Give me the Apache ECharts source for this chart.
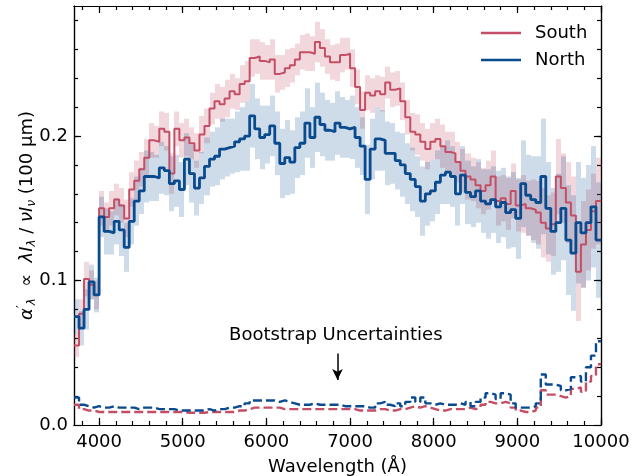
<!DOCTYPE html>
<html>
<head>
<meta charset="utf-8">
<script src="https://cdn.jsdelivr.net/npm/echarts@6/dist/echarts.min.js"></script>
<style>
  html, body { margin: 0; padding: 0; background: #fff; }
  #chart { width: 632px; height: 476px; }
</style>
</head>
<body>
<div id="chart"></div>
<script>
// 波长分箱：3700 Å 起，每箱 60 Å，共 105 箱
const binStart = 3700
const binWidth = 60

// South 谱线数值（每箱一个）
const southFlux = [
  0.055, 0.077, 0.101, 0.097, 0.090, 0.150, 0.144, 0.150, 0.156, 0.152,
  0.143, 0.163, 0.169, 0.177, 0.185, 0.197, 0.196, 0.205, 0.203, 0.174,
  0.205, 0.197, 0.199, 0.195, 0.190, 0.201, 0.207, 0.219, 0.224, 0.222,
  0.226, 0.231, 0.229, 0.236, 0.238, 0.254, 0.255, 0.252, 0.251, 0.253,
  0.243, 0.244, 0.247, 0.249, 0.253, 0.258, 0.258, 0.257, 0.265, 0.261,
  0.255, 0.251, 0.251, 0.256, 0.257, 0.247, 0.234, 0.218, 0.230, 0.228,
  0.231, 0.229, 0.237, 0.232, 0.233, 0.224, 0.213, 0.203, 0.201, 0.196,
  0.191, 0.196, 0.198, 0.193, 0.189, 0.188, 0.182, 0.176, 0.172, 0.170,
  0.166, 0.162, 0.166, 0.172, 0.155, 0.157, 0.153, 0.162, 0.152, 0.153,
  0.150, 0.149, 0.147, 0.140, 0.136, 0.139, 0.172, 0.164, 0.154, 0.145,
  0.106, 0.125, 0.135, 0.148, 0.155
]
// North 谱线数值
const northFlux = [
  0.075, 0.067, 0.080, 0.099, 0.090, 0.144, 0.134, 0.133, 0.141, 0.135,
  0.123, 0.141, 0.155, 0.162, 0.172, 0.172, 0.171, 0.178, 0.176, 0.167,
  0.169, 0.163, 0.184, 0.174, 0.164, 0.171, 0.179, 0.184, 0.186, 0.191,
  0.192, 0.193, 0.196, 0.198, 0.200, 0.214, 0.205, 0.199, 0.201, 0.207,
  0.195, 0.181, 0.185, 0.182, 0.192, 0.195, 0.209, 0.199, 0.213, 0.208,
  0.204, 0.203, 0.209, 0.206, 0.205, 0.206, 0.199, 0.193, 0.170, 0.191,
  0.198, 0.197, 0.188, 0.188, 0.183, 0.180, 0.174, 0.170, 0.165, 0.155,
  0.160, 0.162, 0.168, 0.173, 0.175, 0.172, 0.160, 0.173, 0.161, 0.158,
  0.162, 0.155, 0.153, 0.156, 0.151, 0.154, 0.147, 0.149, 0.143, 0.167,
  0.159, 0.156, 0.154, 0.172, 0.150, 0.134, 0.140, 0.150, 0.128, 0.119,
  0.140, 0.133, 0.140, 0.151, 0.128
]
// 误差（半宽）
const southErr = [
  0.008, 0.010, 0.012, 0.010, 0.010, 0.012, 0.010, 0.012, 0.011, 0.012,
  0.013, 0.012, 0.014, 0.012, 0.013, 0.012, 0.011, 0.012, 0.013, 0.014,
  0.012, 0.012, 0.013, 0.011, 0.012, 0.013, 0.012, 0.011, 0.012, 0.012,
  0.013, 0.012, 0.011, 0.013, 0.014, 0.013, 0.012, 0.013, 0.012, 0.014,
  0.013, 0.012, 0.013, 0.012, 0.011, 0.012, 0.013, 0.012, 0.014, 0.013,
  0.012, 0.012, 0.013, 0.012, 0.011, 0.013, 0.012, 0.013, 0.012, 0.012,
  0.011, 0.012, 0.011, 0.012, 0.012, 0.013, 0.012, 0.013, 0.014, 0.013,
  0.014, 0.013, 0.014, 0.015, 0.014, 0.015, 0.014, 0.015, 0.016, 0.015,
  0.016, 0.016, 0.017, 0.018, 0.017, 0.016, 0.018, 0.019, 0.018, 0.020,
  0.019, 0.021, 0.022, 0.024, 0.023, 0.022, 0.026, 0.024, 0.028, 0.027,
  0.034, 0.030, 0.028, 0.026, 0.030
]
const northErr = [
  0.012, 0.012, 0.014, 0.012, 0.012, 0.014, 0.016, 0.015, 0.016, 0.018,
  0.017, 0.016, 0.017, 0.016, 0.018, 0.017, 0.016, 0.018, 0.017, 0.019,
  0.018, 0.019, 0.018, 0.020, 0.019, 0.018, 0.020, 0.019, 0.020, 0.021,
  0.020, 0.019, 0.021, 0.022, 0.024, 0.022, 0.021, 0.022, 0.020, 0.021,
  0.022, 0.024, 0.026, 0.022, 0.021, 0.022, 0.024, 0.021, 0.024, 0.022,
  0.021, 0.020, 0.022, 0.021, 0.020, 0.022, 0.021, 0.020, 0.024, 0.021,
  0.022, 0.021, 0.022, 0.021, 0.020, 0.022, 0.021, 0.022, 0.021, 0.024,
  0.022, 0.021, 0.022, 0.020, 0.022, 0.021, 0.022, 0.020, 0.022, 0.021,
  0.022, 0.022, 0.024, 0.023, 0.025, 0.024, 0.025, 0.026, 0.028, 0.030,
  0.028, 0.030, 0.032, 0.040, 0.032, 0.030, 0.034, 0.036, 0.038, 0.040,
  0.042, 0.038, 0.040, 0.042, 0.040
]
// Bootstrap 不确定度
const southBoot = [
  0.014, 0.011, 0.010, 0.010, 0.009, 0.009, 0.009, 0.009, 0.009, 0.009,
  0.009, 0.009, 0.009, 0.009, 0.009, 0.009, 0.009, 0.009, 0.009, 0.009,
  0.009, 0.009, 0.0085, 0.0085, 0.0085, 0.0085, 0.009, 0.009, 0.009, 0.009,
  0.009, 0.009, 0.010, 0.010, 0.011, 0.012, 0.012, 0.012, 0.012, 0.012,
  0.012, 0.011, 0.011, 0.011, 0.011, 0.011, 0.011, 0.011, 0.011, 0.011,
  0.011, 0.011, 0.011, 0.011, 0.011, 0.011, 0.010, 0.010, 0.010, 0.010,
  0.011, 0.011, 0.010, 0.010, 0.011, 0.011, 0.012, 0.013, 0.012, 0.013,
  0.012, 0.011, 0.010, 0.010, 0.011, 0.011, 0.011, 0.011, 0.012, 0.011,
  0.012, 0.014, 0.016, 0.015, 0.015, 0.016, 0.015, 0.012, 0.010, 0.009,
  0.009, 0.010, 0.012, 0.024, 0.021, 0.021, 0.020, 0.019, 0.020, 0.025,
  0.026, 0.023, 0.030, 0.034, 0.042
]
const northBoot = [
  0.019, 0.014, 0.013, 0.012, 0.013, 0.012, 0.012, 0.013, 0.012, 0.012,
  0.012, 0.012, 0.011, 0.012, 0.012, 0.012, 0.011, 0.011, 0.011, 0.011,
  0.010, 0.010, 0.010, 0.010, 0.010, 0.010, 0.011, 0.010, 0.011, 0.011,
  0.012, 0.012, 0.013, 0.013, 0.015, 0.017, 0.017, 0.017, 0.017, 0.017,
  0.016, 0.017, 0.016, 0.015, 0.014, 0.014, 0.014, 0.015, 0.014, 0.014,
  0.014, 0.014, 0.014, 0.013, 0.013, 0.013, 0.013, 0.013, 0.012, 0.012,
  0.015, 0.016, 0.014, 0.013, 0.015, 0.013, 0.016, 0.019, 0.016, 0.019,
  0.015, 0.014, 0.015, 0.014, 0.014, 0.014, 0.015, 0.014, 0.016, 0.013,
  0.016, 0.019, 0.022, 0.021, 0.018, 0.022, 0.021, 0.015, 0.012, 0.012,
  0.012, 0.013, 0.015, 0.035, 0.028, 0.028, 0.027, 0.024, 0.025, 0.033,
  0.034, 0.030, 0.040, 0.048, 0.058
]

// 刻度
const xTickLabels = [4000, 5000, 6000, 7000, 8000, 9000, 10000]
const yTickLabels = [0, 0.1, 0.2]

const xMin = 3700
const xMax = 10000
const yMin = 0
const yMax = 0.29

const southColor = '#c44e66'
const northColor = '#0a4a8e'
const font = 'DejaVu Sans'
const lineIcon = 'path://M0,0 L40,0 L40,2.4 L0,2.4 Z'

// 次刻度
const xMinor = []
for (let v = 3800; v <= 10000; v += 200) xMinor.push(v)
const yMinor = []
for (let i = 1; i <= 14; i++) yMinor.push(+(i * 0.02).toFixed(2))

// 阶梯线数据：每箱左边界 + 最后一个右边界
const toStep = (vals) => {
  const pts = vals.map((v, i) => [binStart + i * binWidth, v])
  pts.push([binStart + vals.length * binWidth, vals[vals.length - 1]])
  return pts
}
// 误差带数据：[x0, x1, lo, hi]
const toBand = (vals, errs) => vals.map((v, i) => [
  binStart + i * binWidth, binStart + (i + 1) * binWidth, v - errs[i], v + errs[i]
])

const bandSeries = (name, vals, errs, fill) => ({
  type: 'custom',
  name: name + ' band',
  clip: true,
  silent: true,
  data: toBand(vals, errs),
  renderItem: (params, api) => {
    const p0 = api.coord([api.value(0), api.value(3)])
    const p1 = api.coord([api.value(1), api.value(2)])
    const x = Math.round(p0[0])
    return {
      type: 'rect',
      shape: { x, y: p0[1], width: Math.round(p1[0]) - x, height: p1[1] - p0[1] },
      style: { fill }
    }
  }
})

const xAxisDef = (position, ticks, len, labels) => ({
  type: 'value',
  position,
  min: xMin,
  max: xMax,
  axisLine: { show: true, onZero: false, lineStyle: { color: '#000', width: 1.2 } },
  axisTick: { show: true, inside: true, length: len, customValues: ticks, lineStyle: { color: '#000', width: 1.2 } },
  axisLabel: {
    show: labels, customValues: ticks, margin: 8, color: '#000', fontSize: 18, fontFamily: font,
    formatter: (v) => String(v)
  },
  splitLine: { show: false }
})
const yAxisDef = (position, ticks, len, labels) => ({
  type: 'value',
  position,
  min: yMin,
  max: yMax,
  axisLine: { show: true, onZero: false, lineStyle: { color: '#000', width: 1.2 } },
  axisTick: { show: true, inside: true, length: len, customValues: ticks, lineStyle: { color: '#000', width: 1.2 } },
  axisLabel: {
    show: labels, customValues: ticks, margin: 6, color: '#000', fontSize: 18, fontFamily: font,
    formatter: (v) => v.toFixed(1)
  },
  splitLine: { show: false }
})

const xMain = xAxisDef('bottom', xTickLabels, 7, true)
xMain.name = 'Wavelength (Å)'
xMain.nameLocation = 'middle'
xMain.nameGap = 33
xMain.nameTextStyle = { fontSize: 18, fontFamily: font, color: '#000' }

const yMain = yAxisDef('left', yTickLabels, 7, true)
yMain.name = '{m|α}{sp|′}{sb|λ}  ∝  {m|λI}{sb|λ} / {m|νI}{sb|ν} (100 μm)'
yMain.nameLocation = 'middle'
yMain.nameGap = 36
yMain.nameMoveOverlap = false
yMain.nameTextStyle = {
  fontSize: 18, fontFamily: font, color: '#000', lineHeight: 22,
  rich: {
    m: { fontSize: 18, fontFamily: font, fontStyle: 'italic', color: '#000', lineHeight: 22 },
    sb: { fontSize: 12, fontFamily: font, fontStyle: 'italic', color: '#000', verticalAlign: 'bottom' },
    sp: { fontSize: 12, fontFamily: font, color: '#000', verticalAlign: 'top' }
  }
}

const chart = echarts.init(document.getElementById('chart'), null, { renderer: 'canvas' })

const option = {
  animation: false,
  backgroundColor: '#fff',
  grid: { left: 74, right: 31, top: 6, bottom: 51, outerBoundsMode: 'none', containLabel: false },
  legend: {
    left: 476,
    top: 19,
    orient: 'vertical',
    itemWidth: 40,
    itemHeight: 14,
    itemGap: 9,
    data: [
      { name: 'South', icon: lineIcon },
      { name: 'North', icon: lineIcon }
    ],
    textStyle: { fontSize: 18, fontFamily: font, color: '#000', padding: [0, 0, 0, 9] }
  },
  xAxis: [
    xMain,
    xAxisDef('bottom', xMinor, 4, false),
    xAxisDef('top', xTickLabels, 7, false),
    xAxisDef('top', xMinor, 4, false)
  ],
  yAxis: [
    yMain,
    yAxisDef('left', yMinor, 4, false),
    yAxisDef('right', yTickLabels, 7, false),
    yAxisDef('right', yMinor, 4, false)
  ],
  series: [
    bandSeries('South', southFlux, southErr, 'rgba(196,78,102,0.22)'),
    bandSeries('North', northFlux, northErr, 'rgba(10,74,142,0.2)'),
    {
      name: 'South',
      type: 'line',
      step: 'end',
      symbol: 'none',
      data: toStep(southFlux),
      color: southColor,
      lineStyle: { color: southColor, width: 2 }
    },
    {
      name: 'North',
      type: 'line',
      step: 'end',
      symbol: 'none',
      data: toStep(northFlux),
      color: northColor,
      lineStyle: { color: northColor, width: 2.8 }
    },
    {
      name: 'South bootstrap',
      type: 'line',
      step: 'end',
      symbol: 'none',
      data: toStep(southBoot),
      lineStyle: { color: southColor, width: 2.4, type: [9, 4] }
    },
    {
      name: 'North bootstrap',
      type: 'line',
      step: 'end',
      symbol: 'none',
      data: toStep(northBoot),
      lineStyle: { color: northColor, width: 2.4, type: [9, 4] },
      markLine: {
        silent: true,
        symbol: ['none', 'arrow'],
        symbolSize: [8, 11],
        label: { show: false },
        lineStyle: { color: '#000', width: 1.5, type: 'solid' },
        data: [[{ coord: [6850, 0.0495] }, { coord: [6850, 0.0312] }]]
      },
      markPoint: {
        silent: true,
        symbol: 'rect',
        symbolSize: 0,
        label: {
          show: true,
          position: 'inside',
          formatter: 'Bootstrap Uncertainties',
          fontSize: 18,
          fontFamily: font,
          color: '#000'
        },
        data: [{ coord: [6830, 0.0618] }]
      }
    }
  ]
}

option && chart.setOption(option)
</script>
</body>
</html>
